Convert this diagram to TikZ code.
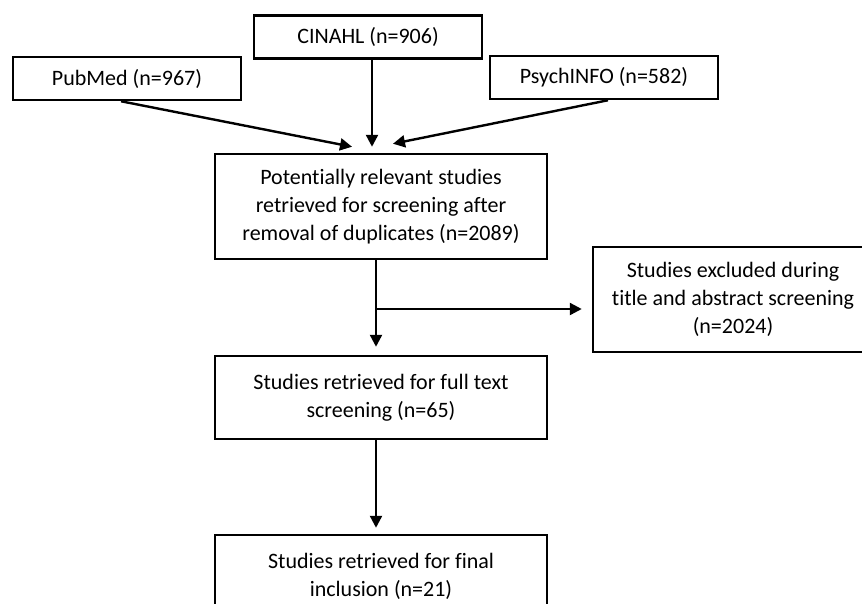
\documentclass[tikz,border=0pt]{standalone}
\usepackage{fontspec}
\setmainfont{Carlito}[Ligatures=NoCommon]
\usepackage{tikz}
\usetikzlibrary{arrows.meta, positioning}

\begin{document}
\begin{tikzpicture}[x=1pt, y=-1pt,
  src/.style={draw, line width=2.5pt, font=\fontsize{22}{28.3}\selectfont, inner sep=0pt,
              minimum width=228pt, minimum height=43pt},
  blk/.style={draw, line width=2.5pt, font=\fontsize{22}{28.3}\selectfont, inner sep=0pt, align=center,
              minimum width=332pt, minimum height=83pt},
  arr/.style={-{Triangle[length=12pt, width=12pt]}, line width=2.4pt},
]
\clip (0,0) rectangle (862,603);
% Databases
\node[src] at (127,78.5) (pubmed) {PubMed (n=967)};
\node[src] at (368,37)   (cinahl) {CINAHL (n=906)};
\node[src] at (604,77.5) (psych)  {PsychINFO (n=582)};
% Screening stages
\node[blk, minimum height=105pt] at (381,206.5) (pot)
     {Potentially relevant studies\\retrieved for screening after\\removal of duplicates (n=2089)};
\node[blk, minimum width=280pt, minimum height=105pt] at (733,299.5) (excl)
     {Studies excluded during\\title and abstract screening\\(n=2024)};
\node[blk] at (381,397.5) (full)  {Studies retrieved for full text\\screening (n=65)};
\node[blk] at (381,576.5) (final) {Studies retrieved for final\\inclusion (n=21)};
\coordinate (split) at (376,309);
% Arrows
\draw[arr] ([xshift=-6pt]pubmed.south) -- ([xshift=-29pt, yshift=6pt]pot.north);
\draw[arr] ([xshift=4pt]cinahl.south)  -- ([xshift=-9pt, yshift=6pt]pot.north);
\draw[arr] ([xshift=4pt]psych.south)   -- ([xshift=12pt, yshift=9pt]pot.north);
\draw[arr] ([xshift=-5pt]pot.south) -- ([xshift=-5pt, yshift=8pt]full.north);
\draw[arr] (split) -- ([xshift=-10pt]split -| excl.west);
\draw[arr] ([xshift=-5pt]full.south) -- ([xshift=-5pt, yshift=6pt]final.north);
\end{tikzpicture}
\end{document}
